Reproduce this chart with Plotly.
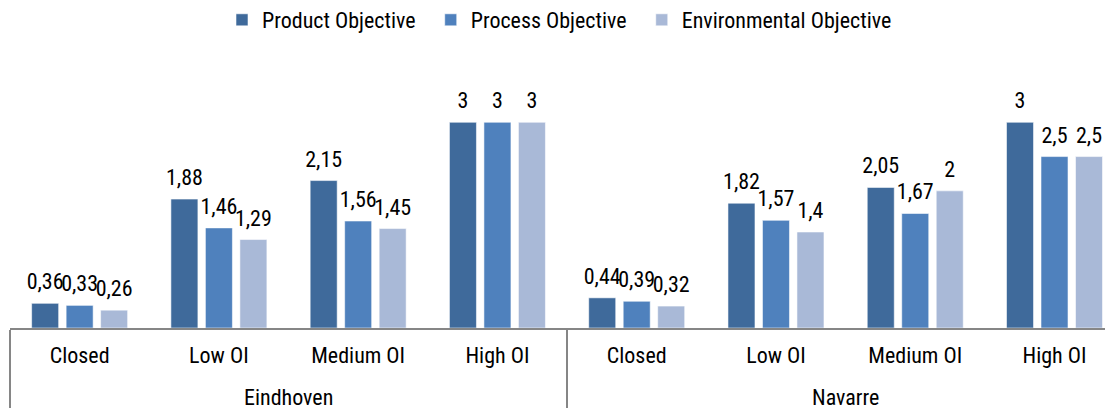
import plotly.graph_objects as go

regions = ["Eindhoven", "Navarre"]
levels = ["Closed", "Low OI", "Medium OI", "High OI"]

product = [0.36, 1.88, 2.15, 3, 0.44, 1.82, 2.05, 3]
process = [0.33, 1.46, 1.56, 3, 0.39, 1.57, 1.67, 2.5]
environmental = [0.26, 1.29, 1.45, 3, 0.32, 1.4, 2, 2.5]

series = [
    ("Product Objective", product, "#3F6A9B"),
    ("Process Objective", process, "#4F81BD"),
    ("Environmental Objective", environmental, "#A9B9D7"),
]

FONT = "Liberation Sans Narrow, Arial Narrow, Roboto Condensed, Lato, sans-serif"

# hidden (two-line, invisible) group keys; the visible group names are annotations
group_keys = ["\u200b" * (i + 1) + "<br>\u200b" for i in range(len(regions))]
x_outer = [k for k in group_keys for _ in levels]
x_inner = levels * len(regions)
n_cat = len(x_inner)

def fmt(v):
    return ("%g" % v).replace(".", ",")

fig = go.Figure()
for i, (name, vals, col) in enumerate(series):
    fig.add_trace(go.Bar(
        x=[x_outer, x_inner], y=vals, name=name + "\u00a0\u00a0",
        marker=dict(color=col, line=dict(color="rgba(255,255,255,0.55)", width=1)),
        offsetgroup=str(i), hoverinfo="skip",
    ))
for i, (name, vals, col) in enumerate(series):
    fig.add_trace(go.Scatter(
        x=[x_outer, x_inner], y=vals, mode="markers+text",
        text=[fmt(v) for v in vals], textposition="top center",
        textfont=dict(family=FONT, size=22, color="#000000"),
        marker=dict(size=12, opacity=0),
        offsetgroup=str(i), showlegend=False, hoverinfo="skip", cliponaxis=False,
    ))

for i, r in enumerate(regions):
    fig.add_annotation(
        text=r, xref="x", x=i * len(levels) + (len(levels) - 1) / 2,
        yref="y domain", y=0, yshift=-69, yanchor="middle", showarrow=False,
        font=dict(family=FONT, size=22, color="#000000"),
    )

fig.update_layout(
    width=1105, height=400,
    margin=dict(l=2, r=0, t=80, b=80, autoexpand=False),
    paper_bgcolor="white", plot_bgcolor="white",
    barmode="group", bargap=0.257, bargroupgap=0.217,
    scattermode="group", scattergap=0.257,
    font=dict(family=FONT, size=22, color="#000000"),
    showlegend=True,
    legend=dict(orientation="h", xref="container", x=214 / 1105, xanchor="left",
                yref="container", y=1 - 12 / 400, yanchor="middle",
                font=dict(family=FONT, size=22), traceorder="normal"),
    xaxis=dict(type="multicategory", range=[-0.5, n_cat - 0.58],
               showline=True, linecolor="#868686", linewidth=2,
               showdividers=True, dividercolor="#868686", dividerwidth=2,
               ticklabelstandoff=7,
               tickfont=dict(family=FONT, size=22), showgrid=False),
    yaxis=dict(range=[0, 3.5], visible=False, showgrid=False, zeroline=False),
)

fig.write_html("out.html")
